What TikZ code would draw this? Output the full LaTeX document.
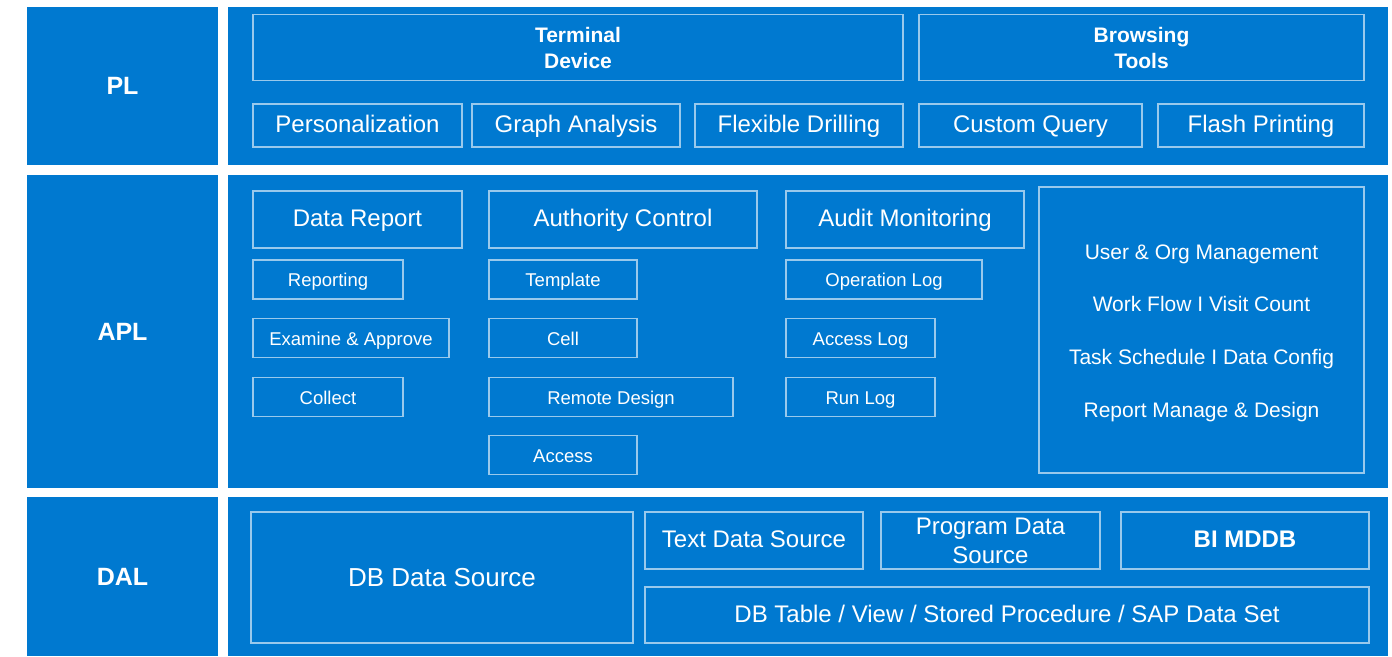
\documentclass[tikz,border=0pt]{standalone}
\usepackage{fontspec}
\setmainfont{Liberation Sans}

\definecolor{layerblue}{RGB}{0,121,208}
\colorlet{edgeblue}{white!60!layerblue}

\begin{document}
\begin{tikzpicture}[x=1pt, y=-1pt]
		\tikzstyle{Layer} = [rectangle, inner sep=0pt, fill=layerblue, text=white, font=\fontsize{25}{30}\selectfont\bfseries]
		\tikzstyle{Box} = [rectangle, draw=edgeblue, line width=1.1pt, text=white, align=center, text centered]
		\tikzstyle{BigBox} = [Box, font=\fontsize{24}{29}\selectfont, text height=18pt, text depth=4pt]
		\tikzstyle{SmallBox} = [Box, minimum height=39pt, font=\fontsize{18.5}{22}\selectfont, text height=16pt, text depth=1.5pt]
		\tikzstyle{HeadBox} = [Box, minimum height=66pt, font=\fontsize{21}{26}\selectfont\bfseries]
		
		\useasboundingbox (0,0) rectangle (1392,656);
		
		% layers
		\node (pl) [Layer, minimum width=191pt, minimum height=158pt] at (122.5,86) {PL};
		\node (plbody) [Layer, minimum width=1160pt, minimum height=158pt] at (808,86) {};
		\node (apl) [Layer, minimum width=191pt, minimum height=313pt] at (122.5,331.5) {APL};
		\node (aplbody) [Layer, minimum width=1160pt, minimum height=313pt] at (808,331.5) {};
		\node (dal) [Layer, minimum width=191pt, minimum height=159pt] at (122.5,576.5) {DAL};
		\node (dalbody) [Layer, minimum width=1160pt, minimum height=159pt] at (808,576.5) {};
		
		% PL
		\node (terminal) [HeadBox, minimum width=650pt] at (578,47.5) {Terminal\\Device};
		\node (browsing) [HeadBox, minimum width=445pt] at (1141.5,47.5) {Browsing\\Tools};
		\node (personal) [BigBox, minimum width=209pt, minimum height=43pt] at (357.5,125.5) {Personalization};
		\node (graph) [BigBox, minimum width=208pt, minimum height=43pt] at (576,125.5) {Graph Analysis};
		\node (drilling) [BigBox, minimum width=208pt, minimum height=43pt] at (799,125.5) {Flexible Drilling};
		\node (query) [BigBox, minimum width=223pt, minimum height=43pt] at (1030.5,125.5) {Custom Query};
		\node (printing) [BigBox, minimum width=206pt, minimum height=43pt] at (1261,125.5) {Flash Printing};
		
		% APL
		\node (report) [BigBox, minimum width=209pt, minimum height=57pt] at (357.5,219.5) {Data Report};
		\node (authority) [BigBox, minimum width=268pt, minimum height=57pt] at (623,219.5) {Authority Control};
		\node (audit) [BigBox, minimum width=238pt, minimum height=57pt] at (905,219.5) {Audit Monitoring};
		\node (manage) [Box, minimum width=325pt, minimum height=286pt, font=\fontsize{21}{52.7}\selectfont] at (1201.5,330)
			{\rule{0pt}{21pt}User \& Org Management\\Work Flow I Visit Count\\Task Schedule I Data Config\\Report Manage \& Design};
		\node (reporting) [SmallBox, minimum width=150pt] at (328,279.5) {Reporting};
		\node (examine) [SmallBox, minimum width=196pt] at (351,338) {Examine \& Approve};
		\node (collect) [SmallBox, minimum width=150pt] at (328,397) {Collect};
		\node (template) [SmallBox, minimum width=148pt] at (563,279.5) {Template};
		\node (cell) [SmallBox, minimum width=148pt] at (563,338) {Cell};
		\node (remote) [SmallBox, minimum width=244pt] at (611,397) {Remote Design};
		\node (access) [SmallBox, minimum width=148pt] at (563,455) {Access};
		\node (oplog) [SmallBox, minimum width=196pt] at (884,279.5) {Operation Log};
		\node (acclog) [SmallBox, minimum width=149pt] at (860.5,338) {Access Log};
		\node (runlog) [SmallBox, minimum width=149pt] at (860.5,397) {Run Log};
		
		% DAL
		\node (dbsource) [BigBox, minimum width=382pt, minimum height=131pt, font=\fontsize{26}{31}\selectfont, text height=20pt, text depth=2pt] at (442,577.5) {DB Data Source};
		\node (textsource) [BigBox, minimum width=218pt, minimum height=57pt] at (754,540.5) {Text Data Source};
		\node (program) [Box, minimum width=219pt, minimum height=57pt, font=\fontsize{24}{29}\selectfont] at (990.5,540.5) {Program Data\\Source};
		\node (bimddb) [BigBox, minimum width=248pt, minimum height=57pt, font=\fontsize{24}{29}\selectfont\bfseries] at (1245,540.5) {BI MDDB};
		\node (dbtable) [BigBox, minimum width=724pt, minimum height=56pt] at (1007,615) {DB Table / View / Stored Procedure / SAP Data Set};
		\end{tikzpicture}
\end{document}
